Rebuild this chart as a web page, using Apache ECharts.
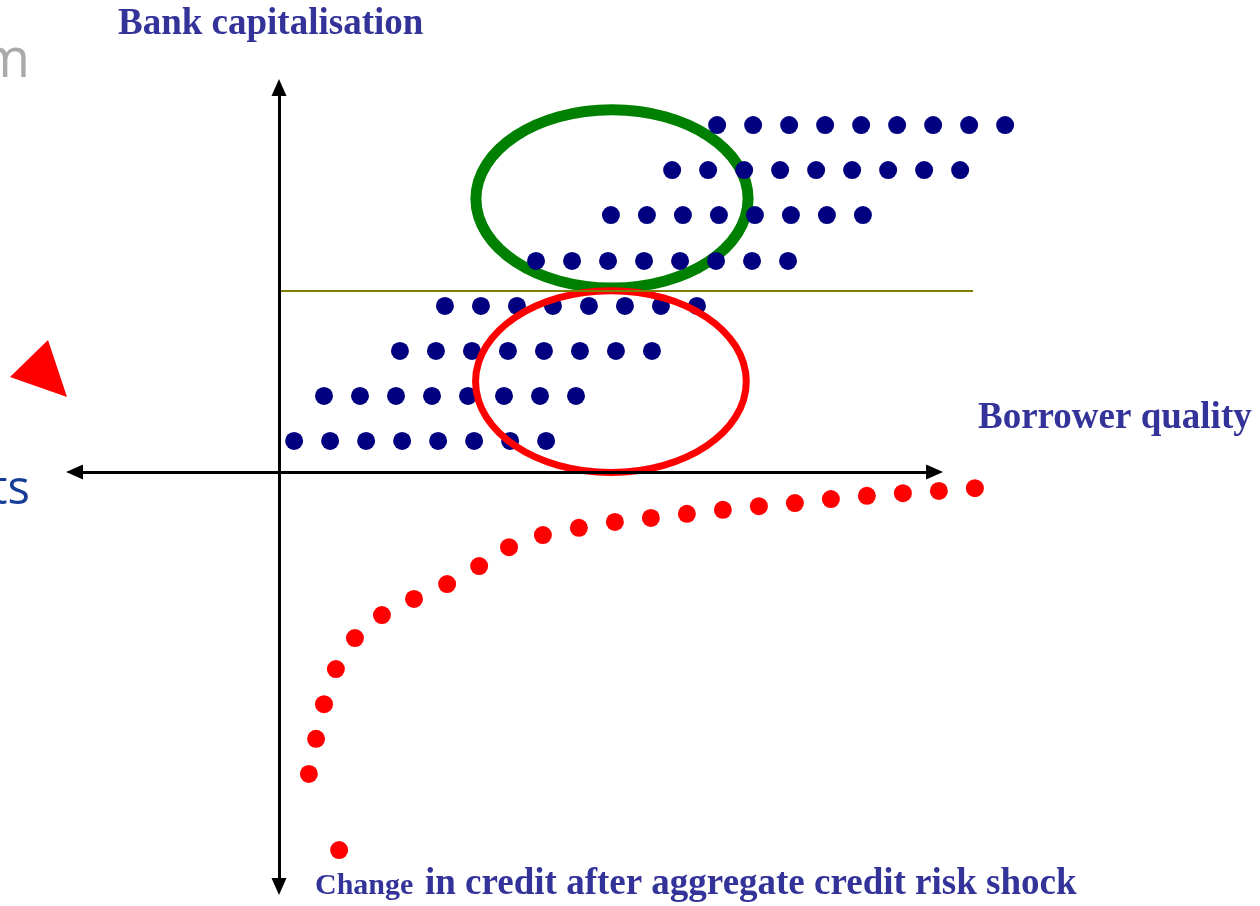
<!DOCTYPE html>
<html>
<head>
<meta charset="utf-8">
<script src="https://cdn.jsdelivr.net/npm/echarts@6/dist/echarts.min.js"></script>
<style>
  html, body { margin: 0; padding: 0; background: #fff; }
  #chart { width: 1260px; height: 906px; }
</style>
</head>
<body>
<div id="chart"></div>
<script>
// units: x = borrower quality (1 = dot spacing), y = bank capitalisation (1 = row spacing)
const blueRowY = [7.71, 6.71, 5.71, 4.69, 3.69, 2.69, 1.69, 0.69]
const blueRowX = [
  [12.17, 13.17, 14.17, 15.17, 16.17, 17.17, 18.17, 19.17, 20.17],
  [10.92, 11.92, 12.92, 13.92, 14.92, 15.92, 16.92, 17.92, 18.92],
  [9.22, 10.22, 11.22, 12.22, 13.22, 14.22, 15.22, 16.22],
  [7.14, 8.14, 9.14, 10.14, 11.14, 12.14, 13.14, 14.14],
  [4.61, 5.61, 6.61, 7.61, 8.61, 9.61, 10.61, 11.61],
  [3.36, 4.36, 5.36, 6.36, 7.36, 8.36, 9.36, 10.36],
  [1.25, 2.25, 3.25, 4.25, 5.25, 6.25, 7.25, 8.25],
  [0.42, 1.42, 2.42, 3.42, 4.42, 5.42, 6.42, 7.42]
]

// change in credit after the shock
const redX = [19.33, 18.33, 17.33, 16.33, 15.33, 14.33, 13.33, 12.33, 11.33, 10.33, 9.33, 8.33,
  7.33, 6.39, 5.56, 4.67, 3.75, 2.86, 2.11, 1.58, 1.25, 1.03, 0.83, 1.67]
const redY = [-0.36, -0.42, -0.47, -0.53, -0.60, -0.69, -0.76, -0.84, -0.93, -1.02, -1.11, -1.24,
  -1.40, -1.67, -2.09, -2.49, -2.82, -3.18, -3.69, -4.38, -5.16, -5.93, -6.71, -8.40]

// ellipses: [cx, cy, rx, ry]
const greenEllipse = [9.25, 6.07, 3.78, 1.98]
const redEllipse = [9.22, 2.01, 3.76, 2.02]
const thresholdY = 4.02
const thresholdEnd = 19.28

const blueData = []
blueRowX.forEach((row, i) => row.forEach(x => blueData.push([x, blueRowY[i]])))
const redData = redX.map((x, i) => [x, redY[i]])

const chart = echarts.init(document.getElementById('chart'))

const ellipseSeries = (name, item, color, width, z) => ({
  name,
  type: 'custom',
  z,
  silent: true,
  data: [item],
  clip: false,
  renderItem: (params, api) => {
    const c = api.coord([api.value(0), api.value(1)])
    const s = api.size([api.value(2), api.value(3)])
    return {
      type: 'ellipse',
      shape: { cx: c[0], cy: c[1], rx: s[0], ry: s[1] },
      style: { fill: 'none', stroke: color, lineWidth: width }
    }
  }
})

const serif = '"Liberation Serif", "Times New Roman", serif'
const axisLine = { color: '#000', width: 3, type: 'solid' }

const option = {
  backgroundColor: '#fff',
  animation: false,
  grid: { left: 0, right: 0, top: 0, bottom: 0 },
  xAxis: { type: 'value', min: -7.75, max: 27.25, show: false },
  yAxis: { type: 'value', min: -9.644, max: 10.489, show: false },
  series: [
    ellipseSeries('green', greenEllipse, '#008000', 11, 1),
    {
      name: 'axes',
      type: 'line',
      data: [],
      z: 2,
      markLine: {
        silent: true,
        animation: false,
        label: { show: false },
        emphasis: { disabled: true },
        data: [
          [
            { coord: [0, thresholdY], symbol: 'none', lineStyle: { color: '#808000', width: 2, type: 'solid' } },
            { coord: [thresholdEnd, thresholdY], symbol: 'none' }
          ],
          [
            { coord: [0, 8.544], symbol: 'triangle', symbolSize: [15, 17], lineStyle: axisLine },
            { coord: [0, -9.211], symbol: 'triangle', symbolSize: [15, 17] }
          ],
          [
            { coord: [-5.68, 0], symbol: 'triangle', symbolSize: [15, 17], lineStyle: axisLine },
            { coord: [18.21, 0], symbol: 'triangle', symbolSize: [15, 17] }
          ]
        ]
      }
    },
    {
      name: 'borrowers',
      type: 'scatter',
      z: 3,
      clip: false,
      symbol: 'circle',
      symbolSize: 18,
      itemStyle: { color: '#000080', opacity: 1 },
      data: blueData
    },
    ellipseSeries('red', redEllipse, '#ff0000', 7, 4),
    {
      name: 'credit change',
      type: 'scatter',
      z: 5,
      clip: false,
      symbol: 'circle',
      symbolSize: 18,
      itemStyle: { color: '#ff0000', opacity: 1 },
      data: redData
    }
  ],
  graphic: [
    { type: 'text', x: 30, y: 62, style: { text: 'm', font: '54px "Open Sans"', fill: '#aaaaaa', align: 'right', verticalAlign: 'middle' } },
    { type: 'text', x: 30, y: 491, style: { text: 'ts', font: '47px "Open Sans"', fill: '#153c97', align: 'right', verticalAlign: 'middle' } },
    { type: 'polygon', shape: { points: [[48, 340], [10, 377], [67, 397]] }, style: { fill: '#ff0000' } },
    { type: 'text', x: 118, y: 24, style: { text: 'Bank capitalisation', font: 'bold 37px ' + serif, fill: '#333399', verticalAlign: 'middle' } },
    { type: 'text', x: 978, y: 418, style: { text: 'Borrower quality', font: 'bold 37px ' + serif, fill: '#333399', verticalAlign: 'middle' } },
    { type: 'text', x: 315, y: 886, style: { text: 'Change', font: 'bold 30px ' + serif, fill: '#333399', verticalAlign: 'middle' } },
    { type: 'text', x: 425, y: 884, style: { text: 'in credit after aggregate credit risk shock', font: 'bold 37px ' + serif, fill: '#333399', verticalAlign: 'middle' } }
  ]
}

chart.setOption(option)
window.addEventListener('resize', () => chart.resize())
</script>
</body>
</html>
